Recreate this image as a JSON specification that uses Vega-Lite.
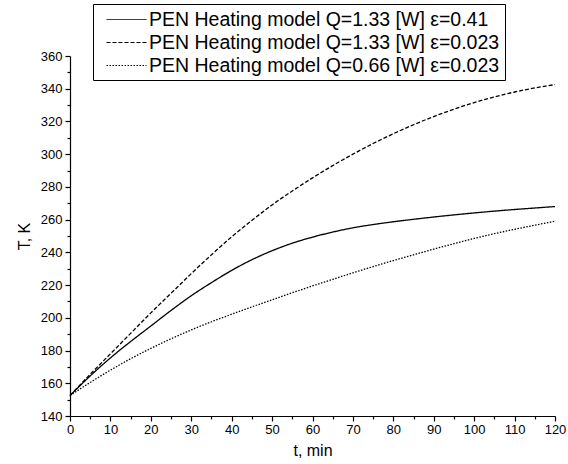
{
  "$schema": "https://vega.github.io/schema/vega-lite/v6.json",
  "autosize": {"type": "none"},
  "padding": {"left": 70, "top": 56, "right": 13, "bottom": 48},
  "width": 485,
  "height": 360,
  "background": "white",
  "config": {
    "view": {"stroke": null},
    "font": "Liberation Sans",
    "axis": {"labelFont": "Liberation Sans", "titleFont": "Liberation Sans", "labelColor": "black", "titleColor": "black", "domainColor": "black", "tickColor": "black", "grid": false}
  },
  "datasets": {
    "curves": [
      {"t": 0, "T": 152.5, "s": "PEN Heating model Q=1.33 [W] ε=0.41"},
      {"t": 5, "T": 164.5, "s": "PEN Heating model Q=1.33 [W] ε=0.41"},
      {"t": 10, "T": 175.5, "s": "PEN Heating model Q=1.33 [W] ε=0.41"},
      {"t": 15, "T": 185.5, "s": "PEN Heating model Q=1.33 [W] ε=0.41"},
      {"t": 20, "T": 195, "s": "PEN Heating model Q=1.33 [W] ε=0.41"},
      {"t": 25, "T": 204.5, "s": "PEN Heating model Q=1.33 [W] ε=0.41"},
      {"t": 30, "T": 213.5, "s": "PEN Heating model Q=1.33 [W] ε=0.41"},
      {"t": 35, "T": 221.5, "s": "PEN Heating model Q=1.33 [W] ε=0.41"},
      {"t": 40, "T": 229, "s": "PEN Heating model Q=1.33 [W] ε=0.41"},
      {"t": 45, "T": 235.5, "s": "PEN Heating model Q=1.33 [W] ε=0.41"},
      {"t": 50, "T": 241, "s": "PEN Heating model Q=1.33 [W] ε=0.41"},
      {"t": 55, "T": 245.6, "s": "PEN Heating model Q=1.33 [W] ε=0.41"},
      {"t": 60, "T": 249.3, "s": "PEN Heating model Q=1.33 [W] ε=0.41"},
      {"t": 65, "T": 252.4, "s": "PEN Heating model Q=1.33 [W] ε=0.41"},
      {"t": 70, "T": 255, "s": "PEN Heating model Q=1.33 [W] ε=0.41"},
      {"t": 75, "T": 257, "s": "PEN Heating model Q=1.33 [W] ε=0.41"},
      {"t": 80, "T": 258.7, "s": "PEN Heating model Q=1.33 [W] ε=0.41"},
      {"t": 85, "T": 260.2, "s": "PEN Heating model Q=1.33 [W] ε=0.41"},
      {"t": 90, "T": 261.6, "s": "PEN Heating model Q=1.33 [W] ε=0.41"},
      {"t": 95, "T": 262.9, "s": "PEN Heating model Q=1.33 [W] ε=0.41"},
      {"t": 100, "T": 264.1, "s": "PEN Heating model Q=1.33 [W] ε=0.41"},
      {"t": 105, "T": 265.2, "s": "PEN Heating model Q=1.33 [W] ε=0.41"},
      {"t": 110, "T": 266.2, "s": "PEN Heating model Q=1.33 [W] ε=0.41"},
      {"t": 115, "T": 267.1, "s": "PEN Heating model Q=1.33 [W] ε=0.41"},
      {"t": 120, "T": 268, "s": "PEN Heating model Q=1.33 [W] ε=0.41"},
      {"t": 0, "T": 152.5, "s": "PEN Heating model Q=1.33 [W] ε=0.023"},
      {"t": 5, "T": 165.5, "s": "PEN Heating model Q=1.33 [W] ε=0.023"},
      {"t": 10, "T": 178, "s": "PEN Heating model Q=1.33 [W] ε=0.023"},
      {"t": 15, "T": 190.5, "s": "PEN Heating model Q=1.33 [W] ε=0.023"},
      {"t": 20, "T": 203, "s": "PEN Heating model Q=1.33 [W] ε=0.023"},
      {"t": 25, "T": 215, "s": "PEN Heating model Q=1.33 [W] ε=0.023"},
      {"t": 30, "T": 227, "s": "PEN Heating model Q=1.33 [W] ε=0.023"},
      {"t": 35, "T": 238.5, "s": "PEN Heating model Q=1.33 [W] ε=0.023"},
      {"t": 40, "T": 249.5, "s": "PEN Heating model Q=1.33 [W] ε=0.023"},
      {"t": 45, "T": 259.5, "s": "PEN Heating model Q=1.33 [W] ε=0.023"},
      {"t": 50, "T": 269, "s": "PEN Heating model Q=1.33 [W] ε=0.023"},
      {"t": 55, "T": 277.5, "s": "PEN Heating model Q=1.33 [W] ε=0.023"},
      {"t": 60, "T": 285.5, "s": "PEN Heating model Q=1.33 [W] ε=0.023"},
      {"t": 65, "T": 293, "s": "PEN Heating model Q=1.33 [W] ε=0.023"},
      {"t": 70, "T": 300, "s": "PEN Heating model Q=1.33 [W] ε=0.023"},
      {"t": 75, "T": 306.5, "s": "PEN Heating model Q=1.33 [W] ε=0.023"},
      {"t": 80, "T": 312.5, "s": "PEN Heating model Q=1.33 [W] ε=0.023"},
      {"t": 85, "T": 318, "s": "PEN Heating model Q=1.33 [W] ε=0.023"},
      {"t": 90, "T": 323, "s": "PEN Heating model Q=1.33 [W] ε=0.023"},
      {"t": 95, "T": 327.5, "s": "PEN Heating model Q=1.33 [W] ε=0.023"},
      {"t": 100, "T": 331.5, "s": "PEN Heating model Q=1.33 [W] ε=0.023"},
      {"t": 105, "T": 335, "s": "PEN Heating model Q=1.33 [W] ε=0.023"},
      {"t": 110, "T": 338, "s": "PEN Heating model Q=1.33 [W] ε=0.023"},
      {"t": 115, "T": 340.5, "s": "PEN Heating model Q=1.33 [W] ε=0.023"},
      {"t": 120, "T": 342.5, "s": "PEN Heating model Q=1.33 [W] ε=0.023"},
      {"t": 0, "T": 152.5, "s": "PEN Heating model Q=0.66 [W] ε=0.023"},
      {"t": 5, "T": 160.5, "s": "PEN Heating model Q=0.66 [W] ε=0.023"},
      {"t": 10, "T": 168, "s": "PEN Heating model Q=0.66 [W] ε=0.023"},
      {"t": 15, "T": 175, "s": "PEN Heating model Q=0.66 [W] ε=0.023"},
      {"t": 20, "T": 181.3, "s": "PEN Heating model Q=0.66 [W] ε=0.023"},
      {"t": 25, "T": 187.2, "s": "PEN Heating model Q=0.66 [W] ε=0.023"},
      {"t": 30, "T": 192.6, "s": "PEN Heating model Q=0.66 [W] ε=0.023"},
      {"t": 35, "T": 197.6, "s": "PEN Heating model Q=0.66 [W] ε=0.023"},
      {"t": 40, "T": 202.2, "s": "PEN Heating model Q=0.66 [W] ε=0.023"},
      {"t": 45, "T": 206.7, "s": "PEN Heating model Q=0.66 [W] ε=0.023"},
      {"t": 50, "T": 211, "s": "PEN Heating model Q=0.66 [W] ε=0.023"},
      {"t": 55, "T": 215.3, "s": "PEN Heating model Q=0.66 [W] ε=0.023"},
      {"t": 60, "T": 219.5, "s": "PEN Heating model Q=0.66 [W] ε=0.023"},
      {"t": 65, "T": 223.5, "s": "PEN Heating model Q=0.66 [W] ε=0.023"},
      {"t": 70, "T": 227.5, "s": "PEN Heating model Q=0.66 [W] ε=0.023"},
      {"t": 75, "T": 231.3, "s": "PEN Heating model Q=0.66 [W] ε=0.023"},
      {"t": 80, "T": 235, "s": "PEN Heating model Q=0.66 [W] ε=0.023"},
      {"t": 85, "T": 238.5, "s": "PEN Heating model Q=0.66 [W] ε=0.023"},
      {"t": 90, "T": 242, "s": "PEN Heating model Q=0.66 [W] ε=0.023"},
      {"t": 95, "T": 245.3, "s": "PEN Heating model Q=0.66 [W] ε=0.023"},
      {"t": 100, "T": 248.5, "s": "PEN Heating model Q=0.66 [W] ε=0.023"},
      {"t": 105, "T": 251.4, "s": "PEN Heating model Q=0.66 [W] ε=0.023"},
      {"t": 110, "T": 254.1, "s": "PEN Heating model Q=0.66 [W] ε=0.023"},
      {"t": 115, "T": 256.6, "s": "PEN Heating model Q=0.66 [W] ε=0.023"},
      {"t": 120, "T": 259, "s": "PEN Heating model Q=0.66 [W] ε=0.023"}
    ]
  },
  "data": {"name": "curves"},
  "resolve": {"axis": {"x": "independent", "y": "independent"}},
  "layer": [
    {
      "mark": {"type": "line", "color": "black", "strokeWidth": 1.3, "interpolate": "monotone"},
      "encoding": {
        "x": {"field": "t", "type": "quantitative", "scale": {"domain": [0, 120], "nice": false},
          "axis": {"orient": "bottom", "values": [0,10,20,30,40,50,60,70,80,90,100,110,120], "title": "t, min", "titleFontSize": 16, "titleFontWeight": "normal", "titlePadding": 6, "labelFontSize": 13, "tickSize": 5, "labelPadding": 2, "domainWidth": 1.2, "tickWidth": 1.2, "labelFlush": false, "labelOverlap": false}},
        "y": {"field": "T", "type": "quantitative", "scale": {"domain": [140, 360], "nice": false, "zero": false},
          "axis": {"orient": "left", "values": [140,160,180,200,220,240,260,280,300,320,340,360], "title": "T, K", "titleFontSize": 16, "titleFontWeight": "normal", "titlePadding": 8, "labelFontSize": 13, "tickSize": 5, "labelPadding": 3, "domainWidth": 1.2, "tickWidth": 1.2, "labelFlush": false, "labelOverlap": false}},
        "strokeDash": {"field": "s", "type": "nominal",
          "scale": {"domain": ["PEN Heating model Q=1.33 [W] ε=0.41", "PEN Heating model Q=1.33 [W] ε=0.023", "PEN Heating model Q=0.66 [W] ε=0.023"], "range": [[1, 0], [4, 2], [1.5, 1.5]]},
          "legend": {"title": null, "orient": "none", "legendX": 23, "legendY": -52, "strokeColor": "black", "fillColor": "white", "padding": 5, "symbolType": "M-2,0H2", "symbolSize": 400, "symbolStrokeColor": "black", "symbolStrokeWidth": 1, "symbolOffset": 18, "labelOffset": 12, "labelFontSize": 19.5, "labelFont": "Liberation Sans", "labelColor": "black", "labelLimit": 600, "rowPadding": 3}}
      }
    },
    {
      "mark": {"type": "line", "opacity": 0},
      "encoding": {
        "x": {"field": "t", "type": "quantitative", "scale": {"domain": [0, 120], "nice": false},
          "axis": {"orient": "bottom", "values": [5,15,25,35,45,55,65,75,85,95,105,115], "title": null, "labels": false, "domain": false, "tickSize": 3, "tickWidth": 1.2}},
        "y": {"field": "T", "type": "quantitative", "scale": {"domain": [140, 360], "nice": false, "zero": false},
          "axis": {"orient": "left", "values": [150,170,190,210,230,250,270,290,310,330,350], "title": null, "labels": false, "domain": false, "tickSize": 3, "tickWidth": 1.2}},
        "detail": {"field": "s", "type": "nominal"}
      }
    }
  ]
}
